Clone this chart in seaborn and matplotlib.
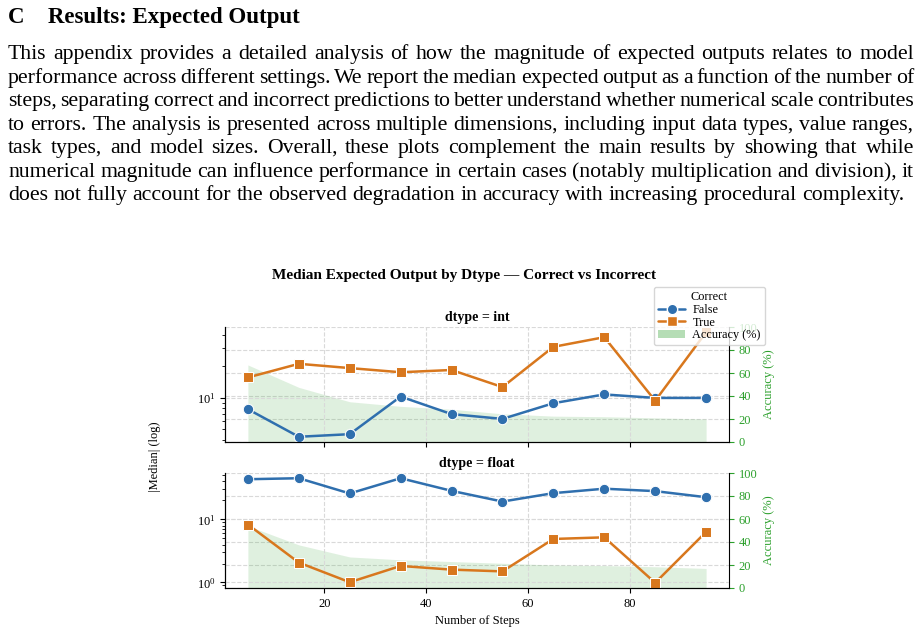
import matplotlib
matplotlib.use("Agg")
import matplotlib.pyplot as plt
from matplotlib.lines import Line2D
from matplotlib.patches import Patch
import matplotlib.ticker as mticker
import seaborn as sns
import pandas as pd

# --- data ---
steps = [5, 15, 25, 35, 45, 55, 65, 75, 85, 95]

int_false = [7.8, 4.25, 4.5, 10.3, 7.0, 6.3, 8.9, 10.8, 10.0, 10.0]
int_true = [15.7, 21.2, 19.3, 17.6, 18.5, 12.7, 30.8, 38.1, 9.4, 42.5]
int_acc = [67, 47.5, 35, 31, 28.5, 24.5, 22.5, 22, 21, 20]

float_false = [43.4, 45.0, 25.8, 45.0, 28.4, 19.2, 26.1, 30.7, 28.1, 22.5]
float_true = [8.3, 2.07, 1.01, 1.83, 1.6, 1.5, 4.9, 5.2, 0.99, 6.35]
float_acc = [54, 37.5, 27, 24.5, 23, 21.5, 20, 19.5, 18.5, 17]

heading_num = "C"
heading = "Results: Expected Output"
para_lines = [
    "This appendix provides a detailed analysis of how the magnitude of expected outputs relates to model",
    "performance across different settings. We report the median expected output as a function of the number of",
    "steps, separating correct and incorrect predictions to better understand whether numerical scale contributes",
    "to errors. The analysis is presented across multiple dimensions, including input data types, value ranges,",
    "task types, and model sizes.  Overall, these plots complement the main results by showing that while",
    "numerical magnitude can influence performance in certain cases (notably multiplication and division), it",
    "does not fully account for the observed degradation in accuracy with increasing procedural complexity.",
]

BLUE = "#2f6fae"
ORANGE = "#d8771d"
GREEN = "#2ca02c"

sns.set_style("ticks")
plt.rcParams["font.family"] = ["Liberation Serif", "DejaVu Serif"]
plt.rcParams["mathtext.fontset"] = "stix"
for key in ["text.color", "axes.labelcolor", "xtick.color", "ytick.color", "axes.edgecolor"]:
    plt.rcParams[key] = "black"

fig = plt.figure(figsize=(9.22, 6.32), dpi=100)
W, H = 922, 632
renderer = fig.canvas.get_renderer()

# --- page text (justified like the paper) ---
fig.text(8 / W, 1 - 23 / H, heading_num, fontsize=16.5, fontweight="bold", va="baseline")
fig.text(48 / W, 1 - 23 / H, heading, fontsize=16.5, fontweight="bold", va="baseline")


def word_widths(line, size):
    objs = [fig.text(0, 0, w, fontsize=size) for w in line.split()]
    ws = [o.get_window_extent(renderer).width for o in objs]
    for o in objs:
        o.remove()
    return ws


# pick a body size where a natural space (~0.25 em) fills the lines on average
em14 = 14 * 100 / 72
ratios = []
for line in para_lines:
    ws = word_widths(line, 14)
    ratios.append(906 / (sum(ws) + (len(ws) - 1) * 0.25 * em14))
body_size = 14 * sum(ratios) / len(ratios)


def justify(line, base_y, right):
    words = line.split()
    objs = [fig.text(0, 1 - base_y / H, w, fontsize=body_size, va="baseline") for w in words]
    widths = [o.get_window_extent(renderer).width for o in objs]
    gap = (right - 8 - sum(widths)) / (len(words) - 1)
    x = 8
    for o, w in zip(objs, widths):
        o.set_x(x / W)
        x += w + gap


baselines = [59, 83, 106, 130, 153, 177, 200]
for i, (line, b) in enumerate(zip(para_lines, baselines)):
    justify(line, b, 904 if i == len(para_lines) - 1 else 914)

# --- chart ---
fig.text(0.503, 1 - 276 / H, "Median Expected Output by Dtype \u2014 Correct vs Incorrect",
         ha="center", va="center", fontsize=11, fontweight="bold")

panels = [
    ("int", int_false, int_true, int_acc, 1 - 442 / H),
    ("float", float_false, float_true, float_acc, 1 - 588 / H),
]

for name, f_vals, t_vals, acc, bottom in panels:
    ax = fig.add_axes([225 / W, bottom, 504 / W, 115 / H])
    ax2 = ax.twinx()

    ax2.fill_between(steps, acc, color=GREEN, alpha=0.15, lw=0)
    ax2.set_ylim(0, 100)
    ax2.set_yticks([0, 20, 40, 60, 80, 100])
    ax2.tick_params(axis="y", colors=GREEN, labelsize=9, length=3.5)
    ax2.set_ylabel("Accuracy (%)", color=GREEN, fontsize=9, labelpad=4)
    ax2.grid(True, axis="y", ls="--", color="0.85", lw=0.8)
    ax2.spines["top"].set_visible(False)
    ax2.spines["right"].set_color("black")

    df = pd.DataFrame({
        "steps": steps * 2,
        "median": f_vals + t_vals,
        "correct": ["False"] * len(steps) + ["True"] * len(steps),
    })
    sns.lineplot(data=df, x="steps", y="median", hue="correct", style="correct",
                 markers={"False": "o", "True": "s"}, dashes=False,
                 palette={"False": BLUE, "True": ORANGE},
                 markersize=7.5, linewidth=1.8, ax=ax, legend=False)
    ax.set_yscale("log")
    ax.yaxis.set_minor_formatter(mticker.NullFormatter())
    ax.set_zorder(ax2.get_zorder() + 1)
    ax.patch.set_visible(False)
    ax.spines["top"].set_visible(False)
    ax.spines["right"].set_visible(False)
    ax.grid(True, which="major", ls="--", color="0.85", lw=0.8)
    ax.set_xticks([20, 40, 60, 80])
    ax.tick_params(axis="both", which="major", labelsize=9, length=3.5)
    ax.tick_params(axis="y", which="minor", length=2)
    ax.set_ylabel("")
    ax.set_title(f"dtype = {name}", fontsize=10, fontweight="bold", pad=4)
    if name == "int":
        ax.tick_params(axis="x", labelbottom=False)
        ax.set_xlabel("")
    else:
        ax.set_xlabel("Number of Steps", fontsize=9)

fig.text(155 / W, 1 - 457 / H, "|Median| (log)", rotation=90, ha="center", va="center", fontsize=9)

handles = [
    Line2D([], [], color=BLUE, marker="o", lw=1.8, markersize=7.5, markeredgecolor="w"),
    Line2D([], [], color=ORANGE, marker="s", lw=1.8, markersize=7.5, markeredgecolor="w"),
    Patch(facecolor=GREEN, alpha=0.35, lw=0),
]
fig.legend(handles, ["False", "True", "Accuracy (%)"], title="Correct",
           loc="upper right", bbox_to_anchor=(765 / W, 1 - 287 / H), borderaxespad=0,
           fontsize=8.8, title_fontsize=8.8, labelspacing=0.05, borderpad=0.35,
           handlelength=2.2, handletextpad=0.6, frameon=True)

fig.savefig("out.png", dpi=100)
